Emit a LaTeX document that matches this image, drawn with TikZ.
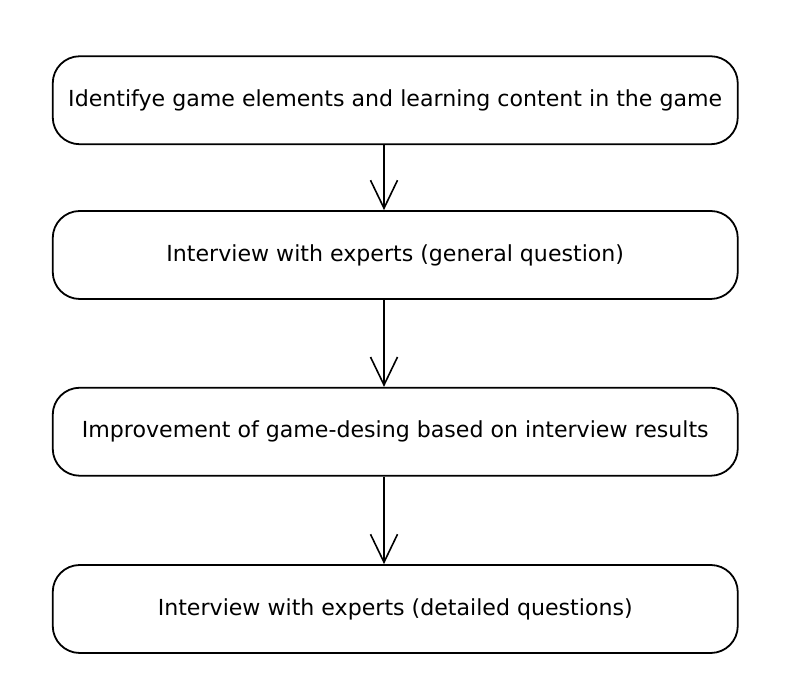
\documentclass[tikz,border=0pt]{standalone}
\usepackage{fontspec}
\setmainfont{DejaVu Sans}
\usetikzlibrary{arrows.meta}
\begin{document}
\begin{tikzpicture}[x=1pt,y=1pt,
  stepbox/.style={draw=black, line width=1.8pt, rounded corners=27pt,
    minimum width=685pt, minimum height=88pt, inner sep=0pt,
    font=\fontsize{22.1}{26}\selectfont},
  arr/.style={draw=black, line width=1.6pt,
    -{Straight Barb[length=28pt,width=27pt,line width=1.6pt]}}]
\useasboundingbox (0,0) rectangle (792,692);
\node[stepbox] (b1) at (395.25,591.75) {Identifye game elements and learning content in the game};
\node[stepbox] (b2) at (395.25,437) {Interview with experts (general question)};
\node[stepbox] (b3) at (395.25,260.25) {Improvement of game-desing based on interview results};
\node[stepbox] (b4) at (395.25,83) {Interview with experts (detailed questions)};
\coordinate (ax) at (384,0);
\draw[arr] (b1.south -| ax) -- (b2.north -| ax);
\draw[arr] (b2.south -| ax) -- (b3.north -| ax);
\draw[arr] (b3.south -| ax) -- (b4.north -| ax);
\end{tikzpicture}
\end{document}
